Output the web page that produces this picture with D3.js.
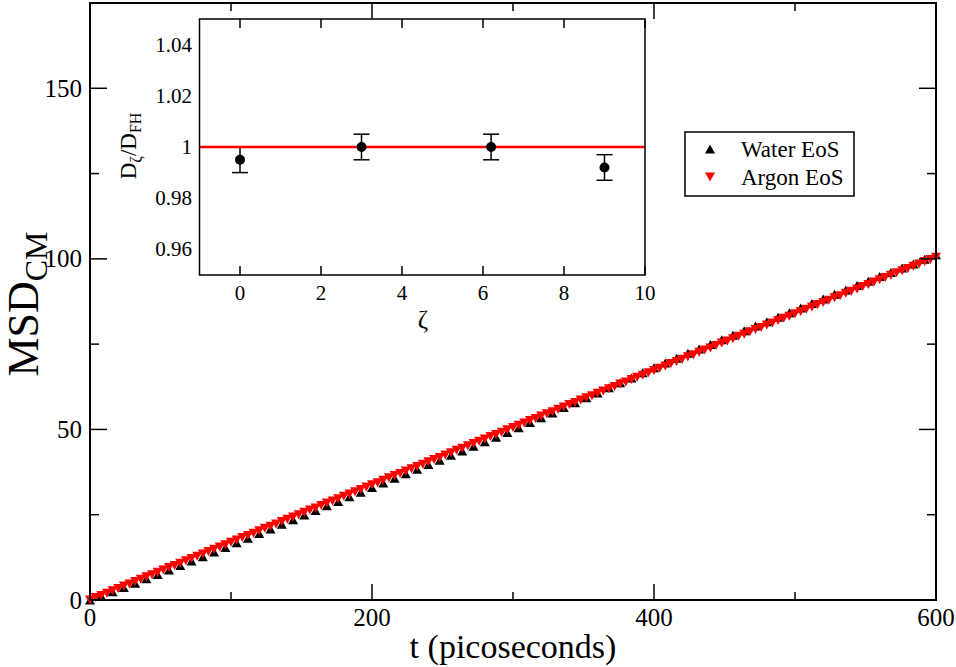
<!DOCTYPE html>
<html>
<head>
<meta charset="utf-8">
<script src="https://cdn.jsdelivr.net/npm/d3@7"></script>
<style>
  body { margin: 0; background: #fff; }
  svg { display: block; }
</style>
</head>
<body>
<svg id="chart"></svg>
<script>
// MSD of centre of mass vs time (ps)
var waterT = d3.range(0, 601, 8);
var waterMSD = [0.0, 1.1, 2.4, 3.7, 4.9, 6.2, 7.5, 8.8, 10.1, 11.4,
  12.7, 14.1, 15.4, 16.8, 18.1, 19.5, 20.8, 22.2, 23.5, 24.9,
  26.2, 27.6, 28.9, 30.3, 31.6, 33.0, 34.3, 35.7, 37.0, 38.3,
  39.7, 41.0, 42.4, 43.7, 45.1, 46.4, 47.7, 49.1, 50.5, 52.0,
  53.4, 54.8, 56.4, 57.8, 59.3, 60.7, 62.2, 63.7, 65.1, 66.6,
  68.1, 69.5, 70.9, 72.3, 73.6, 74.9, 76.3, 77.6, 78.9, 80.3,
  81.6, 82.9, 84.2, 85.6, 86.9, 88.2, 89.6, 90.9, 92.2, 93.4,
  94.8, 96.0, 97.3, 98.5, 99.9, 101.2];

var argonT = d3.range(0, 601, 4);
var argonMSD = [0.0, 0.7, 1.3, 2.0, 2.7, 3.4, 4.1, 4.7, 5.4, 6.1,
  6.8, 7.4, 8.1, 8.8, 9.5, 10.1, 10.8, 11.5, 12.2, 12.8,
  13.5, 14.2, 14.9, 15.5, 16.2, 16.9, 17.6, 18.3, 18.9, 19.6,
  20.3, 21.0, 21.6, 22.3, 23.0, 23.7, 24.3, 25.0, 25.7, 26.4,
  27.0, 27.7, 28.4, 29.0, 29.7, 30.4, 31.1, 31.7, 32.4, 33.1,
  33.8, 34.4, 35.1, 35.8, 36.5, 37.1, 37.8, 38.5, 39.1, 39.8,
  40.5, 41.2, 41.8, 42.5, 43.2, 43.9, 44.5, 45.2, 45.9, 46.5,
  47.2, 47.9, 48.5, 49.2, 49.9, 50.6, 51.2, 51.9, 52.6, 53.2,
  53.9, 54.6, 55.2, 55.9, 56.6, 57.3, 57.9, 58.6, 59.3, 59.9,
  60.6, 61.3, 61.9, 62.6, 63.3, 63.9, 64.6, 65.3, 65.9, 66.6,
  67.3, 67.9, 68.6, 69.3, 69.9, 70.6, 71.3, 71.9, 72.6, 73.3,
  73.9, 74.6, 75.3, 75.9, 76.6, 77.3, 77.9, 78.6, 79.3, 79.9,
  80.6, 81.2, 81.9, 82.6, 83.2, 83.9, 84.6, 85.2, 85.9, 86.6,
  87.2, 87.9, 88.6, 89.2, 89.9, 90.5, 91.2, 91.9, 92.5, 93.2,
  93.9, 94.5, 95.2, 95.9, 96.5, 97.2, 97.8, 98.5, 99.2, 99.8,
  100.5];

var xMajor = [0, 200, 400, 600];
var xMinor = [100, 300, 500];
var yMajor = [0, 50, 100, 150];
var yMinor = [25, 75, 125];

// inset: D_zeta / D_FH vs zeta
var zeta = [0, 3, 6.2, 9];
var ratio = [0.995, 1.000, 1.000, 0.992];
var ratioErr = [0.005, 0.005, 0.005, 0.005];
var insetXTicks = [0, 2, 4, 6, 8, 10];
var insetYTicks = [0.96, 0.98, 1.00, 1.02, 1.04];
var insetYLabels = ["0.96", "0.98", "1", "1.02", "1.04"];

var legendNames = ["Water EoS", "Argon EoS"];

var width = 956, height = 667;
var svg = d3.select("#chart").attr("width", width).attr("height", height);

var x = d3.scaleLinear().domain([0, 600]).range([90, 936]);
var y = d3.scaleLinear().domain([0, 175]).range([600, 3]);

var frame = svg.append("g");

// ticks, inside on all four sides
function vTicks(vals, len) {
  vals.forEach(function(v) {
    frame.append("line").attr("x1", x(v)).attr("x2", x(v))
      .attr("y1", 600).attr("y2", 600 - len).attr("stroke", "#000").attr("stroke-width", 1.5);
    frame.append("line").attr("x1", x(v)).attr("x2", x(v))
      .attr("y1", 3).attr("y2", 3 + len).attr("stroke", "#000").attr("stroke-width", 1.5);
  });
}
function hTicks(vals, len) {
  vals.forEach(function(v) {
    frame.append("line").attr("x1", 90).attr("x2", 90 + len)
      .attr("y1", y(v)).attr("y2", y(v)).attr("stroke", "#000").attr("stroke-width", 1.5);
    frame.append("line").attr("x1", 936).attr("x2", 936 - len)
      .attr("y1", y(v)).attr("y2", y(v)).attr("stroke", "#000").attr("stroke-width", 1.5);
  });
}
vTicks(xMajor, 16); vTicks(xMinor, 8);
hTicks(yMajor, 17); hTicks(yMinor, 9);

frame.selectAll(".xl").data(xMajor).enter().append("text")
  .attr("x", function(d) { return x(d); }).attr("y", 626)
  .attr("text-anchor", "middle").style("font-size", "25px")
  .text(function(d) { return d; });
frame.selectAll(".yl").data(yMajor).enter().append("text")
  .attr("x", 82).attr("y", function(d) { return y(d) + 8.5; })
  .attr("text-anchor", "end").style("font-size", "25px")
  .text(function(d) { return d; });

svg.append("text").attr("x", 513).attr("y", 658)
  .attr("text-anchor", "middle").style("font-size", "34px")
  .text("t (picoseconds)");

var yt = svg.append("text").attr("transform", "translate(38,304) rotate(-90)")
  .attr("text-anchor", "middle").style("font-size", "44px");
yt.append("tspan").text("MSD");
yt.append("tspan").attr("dy", 9).style("font-size", "32px").text("CM");

// data markers
function tri(up, s) {
  var h = s * 0.9;
  return up ? "M0," + (-h / 2) + "L" + (s / 2) + "," + (h / 2) + "L" + (-s / 2) + "," + (h / 2) + "Z"
            : "M0," + (h / 2) + "L" + (s / 2) + "," + (-h / 2) + "L" + (-s / 2) + "," + (-h / 2) + "Z";
}

svg.append("g").selectAll("path").data(waterT).enter().append("path")
  .attr("d", tri(true, 10))
  .attr("transform", function(d, i) { return "translate(" + x(d) + "," + y(waterMSD[i]) + ")"; })
  .attr("fill", "#000");
svg.append("g").selectAll("path").data(argonT).enter().append("path")
  .attr("d", tri(false, 10))
  .attr("transform", function(d, i) { return "translate(" + x(d) + "," + y(argonMSD[i]) + ")"; })
  .attr("fill", "#ff0000");

frame.append("rect").attr("x", 90).attr("y", 3).attr("width", 846).attr("height", 597)
  .attr("fill", "none").attr("stroke", "#000").attr("stroke-width", 2);
frame.raise();

// legend
var leg = svg.append("g");
leg.append("rect").attr("x", 685).attr("y", 132).attr("width", 169).attr("height", 64)
  .attr("fill", "#fff").attr("stroke", "#000").attr("stroke-width", 1.5);
legendNames.forEach(function(n, i) {
  leg.append("path").attr("d", tri(i === 0, 10))
    .attr("transform", "translate(710," + (149 + i * 28) + ")")
    .attr("fill", i === 0 ? "#000" : "#ff0000");
  leg.append("text").attr("x", 741).attr("y", 157 + i * 28)
    .style("font-size", "23px").text(n);
});

// inset
var ix = d3.scaleLinear().domain([-1, 10]).range([199.5, 645]);
var iy = d3.scaleLinear().domain([0.95, 1.05]).range([275, 19]);
var inset = svg.append("g");
inset.append("rect").attr("x", 199.5).attr("y", 19).attr("width", 445.5).attr("height", 256)
  .attr("fill", "#fff").attr("stroke", "none");

insetXTicks.forEach(function(v) {
  inset.append("line").attr("x1", ix(v)).attr("x2", ix(v)).attr("y1", 275).attr("y2", 266)
    .attr("stroke", "#000").attr("stroke-width", 1.5);
  inset.append("line").attr("x1", ix(v)).attr("x2", ix(v)).attr("y1", 19).attr("y2", 28)
    .attr("stroke", "#000").attr("stroke-width", 1.5);
  inset.append("text").attr("x", ix(v)).attr("y", 300).attr("text-anchor", "middle")
    .style("font-size", "21px").text(v);
});
insetYTicks.forEach(function(v, i) {
  inset.append("text").attr("x", 192).attr("y", iy(v) + 7).attr("text-anchor", "end")
    .style("font-size", "21px").text(insetYLabels[i]);
});

// error bars first, then the reference line, then the dots
zeta.forEach(function(z, i) {
  var cx = ix(z), lo = iy(ratio[i] - ratioErr[i]), hi = iy(ratio[i] + ratioErr[i]);
  inset.append("line").attr("x1", cx).attr("x2", cx).attr("y1", lo).attr("y2", hi)
    .attr("stroke", "#000").attr("stroke-width", 1.5);
  [lo, hi].forEach(function(yy) {
    inset.append("line").attr("x1", cx - 8).attr("x2", cx + 8).attr("y1", yy).attr("y2", yy)
      .attr("stroke", "#000").attr("stroke-width", 1.5);
  });
});

inset.append("line").attr("x1", ix(-1)).attr("x2", ix(10)).attr("y1", iy(1)).attr("y2", iy(1))
  .attr("stroke", "#ff0000").attr("stroke-width", 2.5);

inset.selectAll("circle").data(zeta).enter().append("circle")
  .attr("cx", function(d) { return ix(d); })
  .attr("cy", function(d, i) { return iy(ratio[i]); })
  .attr("r", 5).attr("fill", "#000");

inset.append("rect").attr("x", 199.5).attr("y", 19).attr("width", 445.5).attr("height", 256)
  .attr("fill", "none").attr("stroke", "#000").attr("stroke-width", 1.5);

inset.append("text").attr("x", 423).attr("y", 328).attr("text-anchor", "middle")
  .style("font-size", "25px").text("ζ");

var iyt = inset.append("text").attr("transform", "translate(136,146) rotate(-90)")
  .attr("text-anchor", "middle").style("font-size", "23px");
iyt.append("tspan").text("D");
iyt.append("tspan").attr("dy", 5).style("font-size", "16px").text("ζ");
iyt.append("tspan").attr("dy", -5).text("/D");
iyt.append("tspan").attr("dy", 5).style("font-size", "16px").text("FH");

// serif face set inline on every text
svg.selectAll("text, tspan").style("font-family", "'Liberation Serif'").style("fill", "#000");
</script>
</body>
</html>
